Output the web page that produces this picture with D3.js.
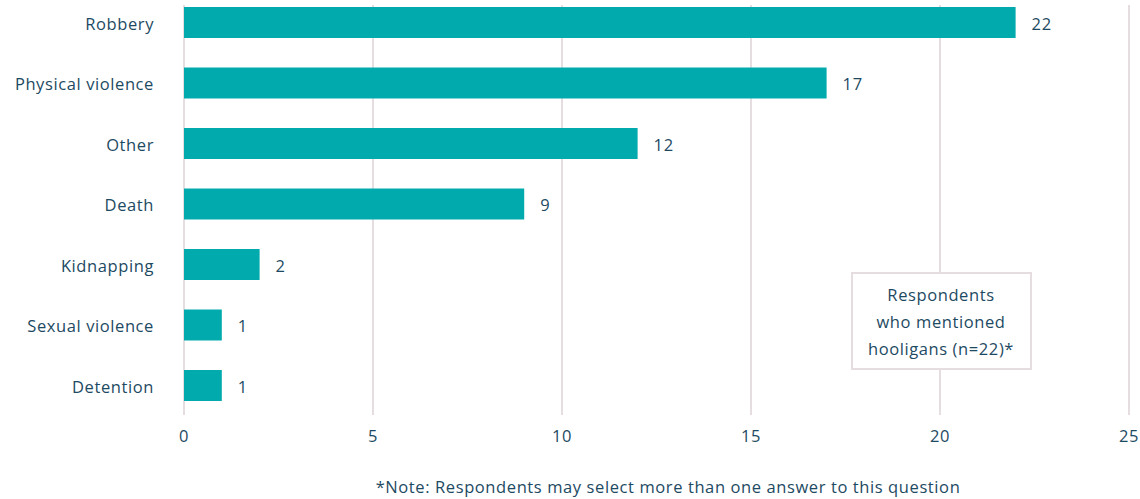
<!doctype html>
<html>
<head>
<meta charset="utf-8">
<script src="https://d3js.org/d3.v7.min.js"></script>
<style>
  body { margin: 0; background: #fff; }
  text { font-family: "Open Sans", Lato, sans-serif; fill: #1d4a62; letter-spacing: 0.6px; }
</style>
</head>
<body>
<svg width="1140" height="499" id="chart"></svg>
<script>
// data
var categories = ["Robbery", "Physical violence", "Other", "Death", "Kidnapping", "Sexual violence", "Detention"];
var counts = [22, 17, 12, 9, 2, 1, 1];
var xTicks = [0, 5, 10, 15, 20, 25];
var legendLines = ["Respondents", "who mentioned", "hooligans (n=22)*"];
var note = "*Note: Respondents may select more than one answer to this question";

var svg = d3.select("#chart");
var gridColor = "#e6dde0", barColor = "#00aaad";
var fs = "16.5px";

var x = d3.scaleLinear().domain([0, 25]).range([184, 1129]);
var y = d3.scaleBand().domain(categories).range([-7.75, 415.75])
    .paddingInner(0.488).paddingOuter(0.244);

var data = categories.map(function(c, i) { return { cat: c, val: counts[i] }; });

// grid lines
svg.append("g").selectAll("line")
   .data(xTicks).enter().append("line")
   .attr("x1", function(d) { return x(d); })
   .attr("x2", function(d) { return x(d); })
   .attr("y1", 5)
   .attr("y2", 415)
   .attr("stroke", gridColor)
   .attr("stroke-width", 2);

// x tick labels
svg.append("g").selectAll("text")
   .data(xTicks).enter().append("text")
   .attr("x", function(d) { return x(d); })
   .attr("y", 435)
   .attr("dy", "0.4em")
   .attr("text-anchor", "middle")
   .attr("font-size", fs)
   .text(function(d) { return d; });

// bars
svg.append("g").selectAll("rect")
   .data(data).enter().append("rect")
   .attr("x", x(0))
   .attr("y", function(d) { return y(d.cat); })
   .attr("width", function(d) { return x(d.val) - x(0); })
   .attr("height", y.bandwidth())
   .attr("fill", barColor);

// category labels
svg.append("g").selectAll("text")
   .data(data).enter().append("text")
   .attr("x", 154)
   .attr("y", function(d) { return y(d.cat) + y.bandwidth() / 2; })
   .attr("dy", "0.45em")
   .attr("text-anchor", "end")
   .attr("font-size", fs)
   .text(function(d) { return d.cat; });

// value labels
svg.append("g").selectAll("text")
   .data(data).enter().append("text")
   .attr("x", function(d) { return x(d.val) + 16; })
   .attr("y", function(d) { return y(d.cat) + y.bandwidth() / 2; })
   .attr("dy", "0.45em")
   .attr("font-size", fs)
   .text(function(d) { return d.val; });

// legend box
var lg = svg.append("g");
lg.append("rect")
  .attr("x", 852).attr("y", 273)
  .attr("width", 179).attr("height", 96)
  .attr("fill", "#fff")
  .attr("stroke", gridColor)
  .attr("stroke-width", 2);
lg.selectAll("text")
  .data(legendLines).enter().append("text")
  .attr("x", 941)
  .attr("y", function(d, i) { return 294 + i * 27; })
  .attr("dy", "0.4em")
  .attr("text-anchor", "middle")
  .attr("font-size", fs)
  .text(function(d) { return d; });

// footnote
svg.append("text")
   .attr("x", 668)
   .attr("y", 487)
   .attr("dy", "0.35em")
   .attr("text-anchor", "middle")
   .attr("font-size", fs)
   .text(note);
</script>
</body>
</html>
